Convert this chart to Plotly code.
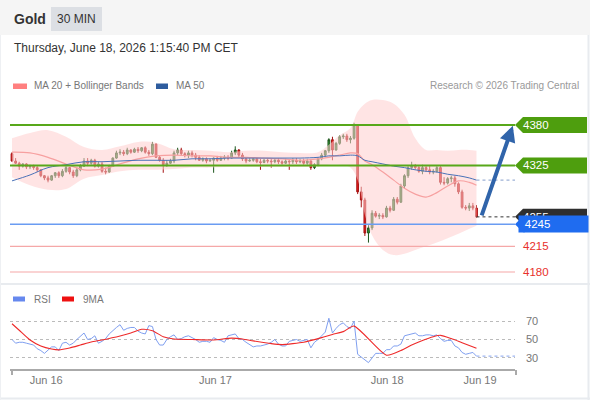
import plotly.graph_objects as go

# ---------------- data (30-min bars, Gold) ----------------
opens = [4341,4331,4328,4324,4327,4323,4324,4322,4319,4311,
         4308,4305,4311,4315,4311,4317,4322,4316,4311,4319,
         4324,4331,4328,4332,4324,4327,4317,4316,4324,4335,
         4342,4343,4341,4346,4343,4347,4345,4349,4343,4341,
         4354,4336,4332,4326,4328,4331,4342,4346,4341,4339,
         4342,4339,4336,4332,4334,4331,4332,4335,4332,4335,
         4336,4335,4342,4346,4339,4334,4331,4332,4334,4330,
         4329,4332,4331,4330,4332,4330,4328,4331,4330,4332,
         4330,4331,4328,4331,4322,4326,4334,4339,4345,4360,
         4346,4355,4364,4365,4360,4362,4380,4289,4278,4233,
         4240,4260,4256,4257,4255,4267,4264,4279,4275,4297,
         4311,4322,4324,4322,4317,4322,4319,4316,4317,4322,
         4302,4301,4307,4308,4300,4289,4268,4267,4270,4267]
closes = [4331,4328,4324,4327,4323,4324,4322,4319,4311,4308,
          4305,4311,4315,4311,4317,4322,4316,4311,4319,4324,
          4331,4328,4332,4324,4327,4317,4316,4324,4335,4342,
          4343,4341,4346,4343,4347,4345,4349,4343,4341,4354,
          4336,4332,4326,4328,4331,4342,4346,4341,4339,4342,
          4339,4336,4332,4334,4331,4332,4335,4332,4335,4336,
          4335,4342,4346,4339,4334,4331,4332,4334,4330,4329,
          4332,4331,4330,4332,4330,4328,4331,4330,4332,4330,
          4331,4328,4331,4322,4326,4334,4339,4345,4360,4346,
          4355,4364,4365,4360,4362,4380,4289,4278,4233,4240,
          4260,4256,4257,4255,4267,4264,4279,4275,4297,4311,
          4322,4324,4322,4317,4322,4319,4316,4317,4322,4302,
          4301,4307,4308,4300,4289,4268,4267,4270,4267,4255]
highs = [4343,4335,4330,4328,4328,4326,4326,4324,4320,4312,
         4311,4312,4316,4317,4320,4324,4323,4319,4322,4327,
         4335,4335,4334,4334,4330,4330,4322,4326,4336,4345,
         4347,4346,4349,4347,4349,4350,4350,4351,4346,4357,
         4355,4339,4335,4332,4334,4345,4349,4349,4343,4345,
         4345,4342,4339,4336,4336,4335,4336,4338,4338,4339,
         4339,4345,4351,4347,4342,4336,4335,4336,4335,4334,
         4334,4335,4334,4335,4335,4332,4334,4332,4335,4335,
         4334,4334,4334,4332,4328,4336,4342,4346,4362,4364,
         4357,4366,4368,4368,4365,4383,4381,4296,4281,4244,
         4264,4263,4260,4260,4270,4270,4282,4282,4300,4313,
         4324,4330,4327,4324,4326,4324,4324,4320,4324,4324,
         4309,4309,4311,4311,4302,4292,4271,4274,4274,4271]
lows = [4330,4327,4319,4322,4320,4320,4319,4316,4309,4305,
        4302,4304,4308,4308,4309,4315,4313,4308,4309,4317,
        4323,4324,4326,4322,4322,4315,4313,4315,4323,4334,
        4339,4338,4339,4341,4342,4342,4343,4341,4338,4339,
        4335,4330,4315,4323,4327,4328,4339,4338,4336,4335,
        4336,4332,4331,4330,4328,4330,4315,4330,4331,4332,
        4332,4334,4339,4336,4331,4328,4330,4330,4328,4319,
        4328,4328,4322,4328,4327,4326,4327,4319,4327,4327,
        4328,4326,4326,4319,4320,4324,4332,4336,4342,4332,
        4345,4353,4361,4357,4355,4360,4286,4268,4229,4220,
        4237,4254,4252,4252,4254,4261,4263,4272,4274,4294,
        4308,4319,4319,4315,4313,4316,4313,4313,4315,4299,
        4298,4299,4302,4296,4286,4266,4264,4263,4264,4254]

# indicator samples (bar index -> value)
band_idx = [0,5,10,15,20,25,30,35,40,45,50,55,60,65,70,75,80,85,88,91,94,96,98,
            100,103,106,109,112,115,118,121,124,127,129]
bb_upper = [4362,4369,4373,4364,4350,4346,4351,4357,4356,4347,4346,4345,4343,4345,
            4345,4343,4342,4343,4353,4366,4376,4398,4409,4414,4414,4409,4394,4362,
            4346,4346,4345,4346,4346,4345]
bb_lower = [4309,4298,4292,4293,4307,4312,4317,4319,4319,4320,4322,4322,4323,4323,
            4323,4323,4323,4324,4326,4326,4322,4305,4258,4230,4210,4203,4205,4210,
            4215,4220,4226,4232,4239,4243]
ma20 = [4343,4342,4336,4327,4319,4320,4327,4334,4338,4339,4338,4338,4336,4336,
        4335,4334,4332,4334,4336,4339,4342,4341,4331,4326,4316,4305,4294,4286,
        4282,4288,4297,4304,4302,4298]
ma50 = [4304,4312,4322,4326,4330,4330,4331,4332,4332,4332,4334,4334,4335,4335,
        4335,4335,4335,4336,4338,4338,4339,4338,4332,4330,4327,4324,4322,4319,
        4317,4316,4313,4311,4308,4305]

rsi = [50,46,47,47,46,45,44,40,38,35,39,42,42,38,46,47,44,46,50,53,
       57,50,51,54,46,48,51,56,60,63,66,60,62,63,63,59,57,56,65,64,
       50,44,44,50,53,55,50,51,53,54,52,50,47,48,48,47,52,50,49,47,
       54,55,56,51,50,47,44,42,43,43,44,45,47,50,45,43,43,48,49,50,
       48,49,50,41,47,50,54,58,73,57,62,66,68,64,62,70,34,31,27,25,
       30,35,35,35,39,39,43,43,45,54,55,56,57,54,54,55,55,54,55,51,
       48,49,49,43,41,36,34,35,36,32]
ma9_idx = [0,2,5,8,11,13,16,19,22,25,30,33,36,39,42,45,50,56,61,64,67,72,75,78,81,
           86,89,92,95,104,108,111,114,117,119,122,125,129]
rsi_ma9 = [67,60,49.5,43,39.7,38.8,40.8,44,47.3,49.5,53.8,57,61,59.5,53,50.5,50,
           49.5,51.5,50.5,48.5,45.5,44.5,45.5,47,52,55.5,58.5,64.5,33,38,44,49,53,
           54.5,51,46.5,40.5]

resistances = [4380, 4325]
supports = [4245, 4215, 4180]
tick_pos = [9.5, 56.5, 104.2, 130]
tick_text = ["Jun 16", "Jun 17", "Jun 18", "Jun 19"]
rsi_levels = [30, 50, 70]

# ---------------- figure ----------------
W, H = 590, 400
FONT = "Liberation Sans, Arial, sans-serif"
def px(x):
    return x / W
def py(y):
    return 1 - y / H

n = len(closes)
bars = list(range(n))
x_end = n - 1 + 10.7
x_range = [-0.56, x_end]

fig = go.Figure()

# Bollinger band fill
fig.add_trace(go.Scatter(x=band_idx, y=bb_upper, mode="lines", line=dict(width=0, shape="spline"),
                         hoverinfo="skip", showlegend=False, xaxis="x", yaxis="y"))
fig.add_trace(go.Scatter(x=band_idx, y=bb_lower, mode="lines", line=dict(width=0, shape="spline"),
                         fill="tonexty", fillcolor="rgba(255,205,205,0.55)",
                         hoverinfo="skip", showlegend=False, xaxis="x", yaxis="y"))
fig.add_trace(go.Scatter(x=band_idx, y=ma20, mode="lines",
                         line=dict(color="#f7a0a0", width=1.2, shape="spline"),
                         showlegend=False, xaxis="x", yaxis="y"))
fig.add_trace(go.Scatter(x=band_idx, y=ma50, mode="lines",
                         line=dict(color="#4a72b8", width=1, shape="spline"),
                         showlegend=False, xaxis="x", yaxis="y"))
# MA50 dotted projection
fig.add_trace(go.Scatter(x=[band_idx[-1], x_end], y=[ma50[-1], ma50[-1]], mode="lines",
                         line=dict(color="#9db1d6", width=1.2, dash="dot"),
                         showlegend=False, xaxis="x", yaxis="y"))

fig.add_trace(go.Candlestick(
    x=bars, open=opens, high=highs, low=lows, close=closes,
    increasing=dict(line=dict(color="#1d561d", width=1), fillcolor="#379837"),
    decreasing=dict(line=dict(color="#a51212", width=1), fillcolor="#e51c1c"),
    showlegend=False, xaxis="x", yaxis="y"))

# last price dotted
fig.add_trace(go.Scatter(x=[n - 1, x_end], y=[closes[-1], closes[-1]], mode="lines",
                         line=dict(color="#333333", width=1, dash="dot"),
                         showlegend=False, xaxis="x", yaxis="y"))

# RSI panel
fig.add_trace(go.Scatter(x=bars, y=rsi, mode="lines", line=dict(color="#7f9ff0", width=1),
                         showlegend=False, xaxis="x2", yaxis="y2"))
fig.add_trace(go.Scatter(x=[n - 1, x_end], y=[rsi[-1], rsi[-1]], mode="lines",
                         line=dict(color="#9fb6f2", width=1.2, dash="dot"),
                         showlegend=False, xaxis="x2", yaxis="y2"))
fig.add_trace(go.Scatter(x=ma9_idx, y=rsi_ma9, mode="lines",
                         line=dict(color="#ee2a2a", width=1.1, shape="spline", smoothing=0.6),
                         showlegend=False, xaxis="x2", yaxis="y2"))

shapes = []
# header background & badge
shapes.append(dict(type="rect", xref="paper", yref="paper", x0=0, x1=1, y0=py(35), y1=1,
                   fillcolor="#f5f5f5", line=dict(width=0), layer="below"))
shapes.append(dict(type="rect", xref="paper", yref="paper", x0=px(51), x1=px(102), y0=py(31), y1=py(7),
                   fillcolor="#dcdfe4", line=dict(width=0), layer="below"))
# card borders / separators
shapes.append(dict(type="line", xref="paper", yref="paper", x0=0, x1=1, y0=py(284), y1=py(284),
                   line=dict(color="#e8ebef", width=2)))
shapes.append(dict(type="line", xref="paper", yref="paper", x0=0, x1=1, y0=py(398.5), y1=py(398.5),
                   line=dict(color="#e8ebef", width=2)))
shapes.append(dict(type="line", xref="paper", yref="paper", x0=px(588.5), x1=px(588.5), y0=0, y1=py(35),
                   line=dict(color="#e8ebef", width=2)))
shapes.append(dict(type="line", xref="paper", yref="paper", x0=px(0.5), x1=px(0.5), y0=0, y1=py(35),
                   line=dict(color="#eef0f3", width=1)))

# level lines
for lv in resistances:
    shapes.append(dict(type="line", xref="x", yref="y", x0=x_range[0], x1=x_end, y0=lv, y1=lv,
                       line=dict(color="#58a81a", width=2)))
shapes.append(dict(type="line", xref="x", yref="y", x0=x_range[0], x1=x_end, y0=supports[0], y1=supports[0],
                   line=dict(color="#6a9cf2", width=1.5)))
for lv in supports[1:]:
    shapes.append(dict(type="line", xref="x", yref="y", x0=x_range[0], x1=x_end, y0=lv, y1=lv,
                       line=dict(color="#f5a8a8", width=1.2)))

# label pointers (pixel sized, anchored at value)
def tag(value, color):
    return dict(type="path", xref="paper", yref="y", xsizemode="pixel", ysizemode="pixel",
                xanchor=px(515), yanchor=value,
                path="M 0,0 L 8,8 L 72,8 L 72,-8 L 8,-8 Z",
                fillcolor=color, line=dict(width=0), layer="above")
for lv in resistances:
    shapes.append(tag(lv, "#4e9e0e"))
shapes.append(tag(closes[-1], "#2e2e2e"))

# legend swatches
shapes.append(dict(type="rect", xref="paper", yref="paper", x0=px(13), x1=px(27), y0=py(89), y1=py(83.5),
                   fillcolor="#ff8080", line=dict(width=0)))
shapes.append(dict(type="rect", xref="paper", yref="paper", x0=px(156), x1=px(168), y0=py(89), y1=py(83.5),
                   fillcolor="#2e5c9e", line=dict(width=0)))
shapes.append(dict(type="rect", xref="paper", yref="paper", x0=px(13), x1=px(25), y0=py(301.5), y1=py(296.5),
                   fillcolor="#6688ee", line=dict(width=0)))
shapes.append(dict(type="rect", xref="paper", yref="paper", x0=px(62), x1=px(74), y0=py(301.5), y1=py(296.5),
                   fillcolor="#ee1111", line=dict(width=0)))
# x-axis end ticks
for xe in [12, 516]:
    shapes.append(dict(type="line", xref="paper", yref="paper", x0=px(xe), x1=px(xe), y0=py(370), y1=py(375),
                       line=dict(color="#aaaaaa", width=2)))

ann = []
def text(x, y, s, size=11, color="#666666", anchor="left", bold=False):
    ann.append(dict(xref="paper", yref="paper", x=px(x), y=py(y), text=("<b>%s</b>" % s) if bold else s,
                    showarrow=False, xanchor=anchor, yanchor="middle",
                    font=dict(family=FONT, size=size, color=color)))

text(12, 19, "Gold", 14, "#333333", bold=True)
text(76.5, 19, "30 MIN", 12, "#333333", anchor="center")
text(12, 48, "Thursday, June 18, 2026 1:15:40 PM CET", 12, "#333333")
text(32, 86, "MA 20 + Bollinger Bands", 10, "#777777")
text(174, 86, "MA 50", 10, "#777777")
text(581, 86, "Research © 2026 Trading Central", 10, "#999999", anchor="right")
text(32, 299, "RSI", 10, "#777777")
text(81, 299, "9MA", 10, "#777777")

# level label texts
def level_text(value, s, color):
    ann.append(dict(xref="paper", yref="y", x=px(521), y=value, text=s, showarrow=False,
                    xanchor="left", yanchor="middle", font=dict(family=FONT, size=11.5, color=color)))

for lv in resistances:
    level_text(lv, str(lv), "#ffffff")
level_text(closes[-1], str(closes[-1]), "#ffffff")
# blue support label box drawn above the dark one
ann.append(dict(xref="paper", yref="y", x=px(518), y=supports[0], text="\u2002%d" % supports[0],
                showarrow=False, xanchor="left", yanchor="middle", width=69, height=16, align="left",
                bgcolor="#1f6cf0", borderpad=0, font=dict(family=FONT, size=11.5, color="#ffffff")))
for lv in supports[1:]:
    level_text(lv, str(lv), "#e8302b")

# projection arrow
ann.append(dict(xref="x", yref="y", axref="x", ayref="y", x=n - 1 + 10.1, y=resistances[0] - 1,
                ax=n - 1 + 1.3, ay=closes[-1], text="", showarrow=True, arrowhead=2, arrowsize=0.8,
                arrowwidth=4, arrowcolor="#3064aa", standoff=0))

blue_tip = dict(type="path", xref="paper", yref="y", xsizemode="pixel", ysizemode="pixel",
                xanchor=px(515), yanchor=supports[0],
                path="M 0,0 L 8,8 L 10,8 L 10,-8 L 8,-8 Z", fillcolor="#1f6cf0",
                line=dict(width=0), layer="above")
shapes.append(blue_tip)

fig.update_layout(
    width=W, height=H, margin=dict(l=0, r=0, t=0, b=0),
    paper_bgcolor="#ffffff", plot_bgcolor="rgba(0,0,0,0)",
    showlegend=False, shapes=shapes, annotations=ann, hovermode=False,
    xaxis=dict(domain=[px(10), px(515)], range=x_range, anchor="y", visible=False,
               rangeslider=dict(visible=False), fixedrange=True),
    yaxis=dict(domain=[py(282), py(95)], range=[4166.4, 4420.8], visible=False),
    xaxis2=dict(domain=[px(10), px(515)], range=x_range, anchor="y2", matches="x",
                showline=True, linecolor="#aaaaaa", linewidth=2, showgrid=False, zeroline=False,
                tickmode="array", tickvals=tick_pos, ticktext=tick_text, ticks="",
                tickfont=dict(family=FONT, size=11, color="#777777"), rangeslider=dict(visible=False)),
    yaxis2=dict(domain=[py(369), py(300)], range=[18.1, 92.7], side="right", anchor="x2",
                tickmode="array", tickvals=rsi_levels, showgrid=True, gridcolor="#bbbbbb",
                griddash="dot", gridwidth=1, zeroline=False, showline=False, ticks="",
                ticklabelstandoff=10,
                tickfont=dict(family=FONT, size=11, color="#777777")),
)

fig.write_html("out.html", config={"displayModeBar": False, "staticPlot": True},
               post_script="document.body.style.margin='0';document.body.style.overflow='hidden';")
